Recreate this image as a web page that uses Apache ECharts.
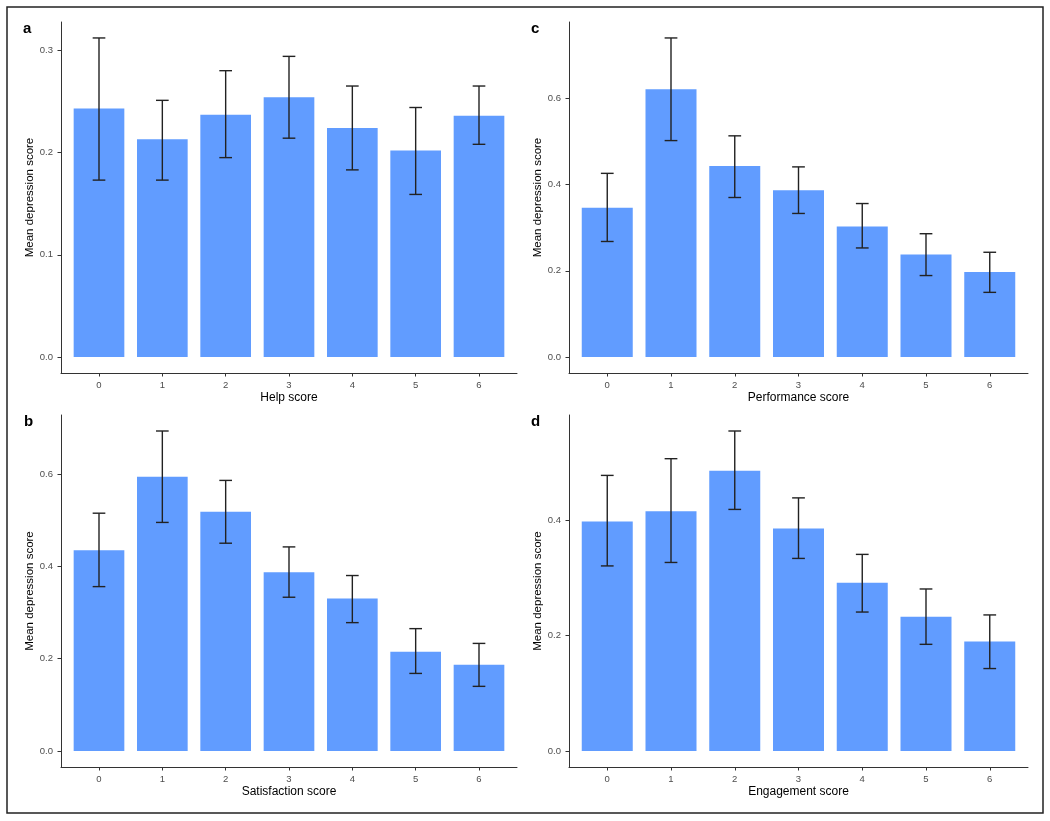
<!DOCTYPE html>
<html>
<head>
<meta charset="utf-8">
<script src="https://cdn.jsdelivr.net/npm/echarts@6/dist/echarts.min.js"></script>
<style>
  html, body { margin: 0; padding: 0; background: #fff; }
  #chart { width: 1050px; height: 821px; }
</style>
</head>
<body>
<div id="chart"></div>
<script>
// scores 0..6 on every panel
const scores = [0, 1, 2, 3, 4, 5, 6];

// a: help score
const helpMean = [0.243, 0.213, 0.237, 0.254, 0.224, 0.202, 0.236];
const helpLow  = [0.173, 0.173, 0.195, 0.214, 0.183, 0.159, 0.208];
const helpHigh = [0.312, 0.251, 0.280, 0.294, 0.265, 0.244, 0.265];

// b: satisfaction score
const satMean = [0.435, 0.594, 0.518, 0.387, 0.330, 0.215, 0.187];
const satLow  = [0.356, 0.495, 0.450, 0.333, 0.278, 0.168, 0.140];
const satHigh = [0.515, 0.693, 0.586, 0.442, 0.380, 0.265, 0.233];

// c: performance score
const perfMean = [0.346, 0.621, 0.443, 0.387, 0.303, 0.238, 0.197];
const perfLow  = [0.268, 0.502, 0.370, 0.333, 0.253, 0.189, 0.150];
const perfHigh = [0.426, 0.740, 0.513, 0.441, 0.356, 0.286, 0.243];

// d: engagement score
const engMean = [0.398, 0.416, 0.486, 0.386, 0.292, 0.233, 0.190];
const engLow  = [0.321, 0.327, 0.419, 0.334, 0.241, 0.185, 0.143];
const engHigh = [0.478, 0.507, 0.555, 0.439, 0.341, 0.281, 0.236];

// y tick positions per panel
const ticksA = [0, 0.1, 0.2, 0.3];
const ticksB = [0, 0.2, 0.4, 0.6];
const ticksC = [0, 0.2, 0.4, 0.6];
const ticksD = [0, 0.2, 0.4];

const FONT = "'Liberation Sans', Arial, sans-serif";
const BAR = '#619CFF';

const panels = [
  { letter: 'a', name: 'Help score', mean: helpMean, low: helpLow, high: helpHigh, ticks: ticksA,
    grid: { left: 61, top: 22, width: 456, height: 351 }, lx: 23, ly: 30 },
  { letter: 'c', name: 'Performance score', mean: perfMean, low: perfLow, high: perfHigh, ticks: ticksC,
    grid: { left: 569, top: 22, width: 459, height: 351 }, lx: 531, ly: 30 },
  { letter: 'b', name: 'Satisfaction score', mean: satMean, low: satLow, high: satHigh, ticks: ticksB,
    grid: { left: 61, top: 415, width: 456, height: 352 }, lx: 24, ly: 423 },
  { letter: 'd', name: 'Engagement score', mean: engMean, low: engLow, high: engHigh, ticks: ticksD,
    grid: { left: 569, top: 415, width: 459, height: 352 }, lx: 531, ly: 423 }
];

const grids = [], xAxes = [], yAxes = [], series = [];
const graphics = [{
  type: 'rect', shape: { x: 7, y: 7, width: 1036, height: 806 },
  style: { fill: 'none', stroke: '#222', lineWidth: 1.5 }, silent: true
}];

panels.forEach((p, i) => {
  grids.push(Object.assign({ containLabel: false }, p.grid));

  xAxes.push({
    type: 'value', gridIndex: i, min: -0.6, max: 6.6,
    name: p.name, nameLocation: 'middle', nameGap: 19,
    nameTextStyle: { color: '#000', fontSize: 12, fontFamily: FONT },
    axisLine: { show: true, onZero: false, lineStyle: { color: '#333', width: 1 } },
    axisTick: { show: true, length: 3.5, customValues: scores, lineStyle: { color: '#333' } },
    axisLabel: { customValues: scores, margin: 7, color: '#4D4D4D', fontSize: 9.5, fontFamily: FONT },
    splitLine: { show: false }
  });

  // ggplot-style 5% expansion around [0, max upper bar]
  const top = Math.max(...p.high);
  yAxes.push({
    type: 'value', gridIndex: i, min: -0.05 * top, max: 1.05 * top,
    name: 'Mean depression score', nameLocation: 'middle', nameGap: 21,
    nameTextStyle: { color: '#000', fontSize: 11.5, fontFamily: FONT },
    axisLine: { show: true, onZero: false, lineStyle: { color: '#333', width: 1 } },
    axisTick: { show: true, length: 3.5, customValues: p.ticks, lineStyle: { color: '#333' } },
    axisLabel: { customValues: p.ticks, margin: 8, color: '#4D4D4D', fontSize: 9.5, fontFamily: FONT,
      formatter: v => v.toFixed(1) },
    splitLine: { show: false }
  });

  series.push({
    type: 'custom', xAxisIndex: i, yAxisIndex: i,
    data: scores.map((s, k) => [s, p.mean[k]]),
    encode: { x: 0, y: 1 },
    renderItem: (params, api) => {
      const x = api.value(0), y = api.value(1);
      const a = api.coord([x - 0.4, y]);
      const b = api.coord([x + 0.4, 0]);
      return { type: 'rect', shape: { x: a[0], y: a[1], width: b[0] - a[0], height: b[1] - a[1] },
        style: { fill: BAR } };
    }
  });

  series.push({
    type: 'custom', xAxisIndex: i, yAxisIndex: i, z: 5,
    data: scores.map((s, k) => [s, p.low[k], p.high[k]]),
    encode: { x: 0, y: [1, 2] },
    renderItem: (params, api) => {
      const x = api.value(0);
      const lo = api.coord([x, api.value(1)]);
      const hi = api.coord([x, api.value(2)]);
      const half = (api.coord([x + 0.1, 0])[0] - api.coord([x, 0])[0]);
      const st = { stroke: '#222', lineWidth: 1.4 };
      return { type: 'group', children: [
        { type: 'line', shape: { x1: lo[0], y1: lo[1], x2: hi[0], y2: hi[1] }, style: st },
        { type: 'line', shape: { x1: hi[0] - half, y1: hi[1], x2: hi[0] + half, y2: hi[1] }, style: st },
        { type: 'line', shape: { x1: lo[0] - half, y1: lo[1], x2: lo[0] + half, y2: lo[1] }, style: st }
      ] };
    }
  });

  graphics.push({
    type: 'text', left: p.lx, top: p.ly - 9,
    style: { text: p.letter, fill: '#000', font: 'bold 15px ' + FONT }
  });
});

const chart = echarts.init(document.getElementById('chart'));
chart.setOption({
  animation: false,
  backgroundColor: '#fff',
  textStyle: { fontFamily: FONT },
  grid: grids,
  xAxis: xAxes,
  yAxis: yAxes,
  series: series,
  graphic: graphics
});
</script>
</body>
</html>
